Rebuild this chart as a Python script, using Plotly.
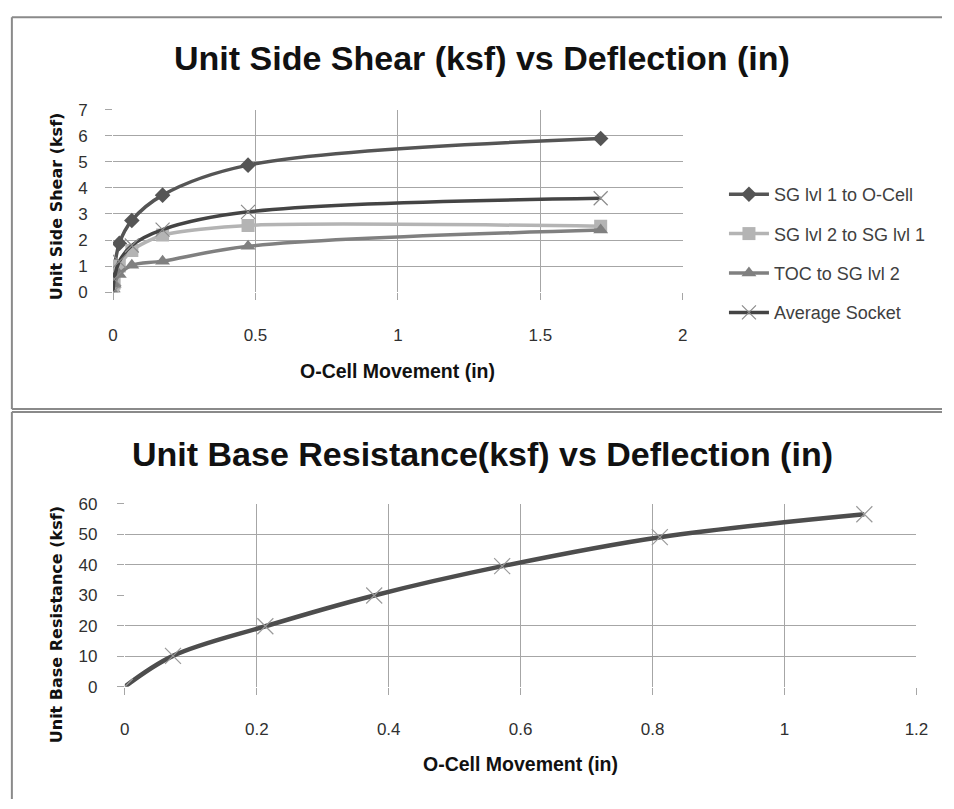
import plotly.graph_objects as go

# ---------------- data ----------------
movement = [0, 0.004, 0.022, 0.066, 0.174, 0.474, 1.712]
sg1_ocell = [0, 0.85, 1.87, 2.75, 3.72, 4.87, 5.89]
sg2_sg1 = [0, 0.35, 1.0, 1.6, 2.19, 2.56, 2.53]
toc_sg2 = [0, 0.3, 0.68, 1.03, 1.19, 1.76, 2.38]
avg_socket = [0, 0.5, 1.18, 1.79, 2.4, 3.08, 3.6]

base_movement = [0, 0.073, 0.213, 0.378, 0.572, 0.811, 1.121]
base_resistance = [0, 10.1, 19.8, 29.9, 39.5, 49.0, 56.5]

top_xticks = [0, 0.5, 1, 1.5, 2]
top_xlabels = ["0", "0.5", "1", "1.5", "2"]
top_yticks = [0, 1, 2, 3, 4, 5, 6, 7]
bot_xticks = [0, 0.2, 0.4, 0.6, 0.8, 1, 1.2]
bot_xlabels = ["0", "0.2", "0.4", "0.6", "0.8", "1", "1.2"]
bot_yticks = [0, 10, 20, 30, 40, 50, 60]
bot_ygrid = [0, 10, 20, 40, 50, 60]

W, H = 954, 809
NARROW = "Liberation Sans Narrow, Arial Narrow, Liberation Sans, sans-serif"
WIDE = "DejaVu Sans, Verdana, sans-serif"
GRID = "#a6a6a6"
TXT = "#303030"


def px(x):
    return x / W


def py(y):
    return 1 - y / H


fig = go.Figure()

series = [
    ("SG lvl 1 to O-Cell", sg1_ocell, "#555555", "diamond", 12, "#555555", 1.0),
    ("SG lvl 2 to SG lvl 1", sg2_sg1, "#b4b4b4", "square", 13, "#b4b4b4", 0.7),
    ("TOC to SG lvl 2", toc_sg2, "#808080", "triangle-up", 13, "#808080", 1.0),
    ("Average Socket", avg_socket, "#444444", "x-thin", 14, "#8c8c8c", 1.0),
]
for i, (name, ys, col, sym, size, mcol, sm) in enumerate(series):
    marker = dict(symbol=sym, size=size, color=mcol)
    if sym == "x-thin":
        marker["line"] = dict(color=mcol, width=1.2)
    else:
        marker["line"] = dict(width=0)
    fig.add_trace(go.Scatter(
        x=movement, y=ys, name=name, mode="lines+markers",
        line=dict(color=col, width=3.5, shape="spline", smoothing=sm),
        marker=marker, xaxis="x", yaxis="y", legendgroup=f"g{i}",
    ))

fig.add_trace(go.Scatter(
    x=base_movement, y=base_resistance, name="Unit Base Resistance",
    mode="lines+markers", showlegend=False,
    line=dict(color="#4d4d4d", width=4.5, shape="spline", smoothing=1.0),
    marker=dict(symbol="x-thin", size=16, color="#9a9a9a",
                line=dict(color="#9a9a9a", width=1.2)),
    xaxis="x2", yaxis="y2",
))

tickfont = dict(family=NARROW, size=17, color=TXT)

fig.update_layout(
    width=W, height=H, margin=dict(l=0, r=0, t=0, b=0),
    paper_bgcolor="white", plot_bgcolor="white",
    xaxis=dict(domain=[px(110), px(690)], range=[0, 2], tickvals=top_xticks,
               ticktext=top_xlabels, showgrid=True, gridcolor=GRID, gridwidth=1,
               zeroline=False, showline=False, ticks="outside", ticklen=7,
               tickcolor=GRID, tickfont=tickfont, ticklabelstandoff=20,
               anchor="y"),
    yaxis=dict(domain=[py(290), py(103)], range=[0, 7], tickvals=top_yticks,
               showgrid=True, gridcolor=GRID, gridwidth=1, zeroline=False,
               showline=False, ticks="outside", ticklen=7, tickcolor=GRID,
               tickfont=tickfont, ticklabelstandoff=14, anchor="x"),
    xaxis2=dict(domain=[px(122), px(928)], range=[0, 1.2], tickvals=bot_xticks,
                ticktext=bot_xlabels, showgrid=True, gridcolor=GRID, gridwidth=1,
                zeroline=False, showline=False, ticks="outside", ticklen=7,
                tickcolor=GRID, tickfont=tickfont, ticklabelstandoff=20,
                anchor="y2"),
    yaxis2=dict(domain=[py(694), py(506.5)], range=[0, 60], tickvals=bot_ygrid,
                showgrid=True, gridcolor=GRID, gridwidth=1, zeroline=False,
                showline=False, showticklabels=False, ticks="", anchor="x2"),
    yaxis3=dict(overlaying="y2", range=[0, 60], tickvals=bot_yticks,
                showgrid=False, zeroline=False, showline=False, ticks="outside",
                ticklen=7, tickcolor=GRID, tickfont=tickfont,
                ticklabelstandoff=16, anchor="x2", side="left"),
    legend=dict(x=px(732), y=py(171), xanchor="left", yanchor="top",
                font=dict(family=NARROW, size=18, color="#404040"),
                tracegroupgap=13, bgcolor="rgba(0,0,0,0)", itemwidth=40),
    showlegend=True,
)

# invisible trace to activate the label-only overlay axis
fig.add_trace(go.Scatter(x=[0], y=[0], xaxis="x2", yaxis="y3", mode="markers",
                         marker=dict(opacity=0), showlegend=False,
                         hoverinfo="skip"))

annotations = [
    dict(text="<b>Unit Side Shear (ksf) vs Deflection (in)</b>", x=px(486), y=py(50),
         font=dict(family=NARROW, size=34, color="#111111")),
    dict(text="<b>Unit Base Resistance(ksf) vs Deflection (in)</b>", x=px(486), y=py(456),
         font=dict(family=NARROW, size=34, color="#111111")),
    dict(text="<b>O-Cell Movement (in)</b>", x=px(400), y=py(371),
         font=dict(family=NARROW, size=19.5, color="#111111")),
    dict(text="<b>O-Cell Movement (in)</b>", x=px(525), y=py(773),
         font=dict(family=NARROW, size=19.5, color="#111111")),
    dict(text="<b>Unit Side Shear (ksf)</b>", x=px(52), y=py(202), textangle=-90,
         font=dict(family=WIDE, size=16, color="#111111")),
    dict(text="<b>Unit Base Resistance (ksf)</b>", x=px(52), y=py(631), textangle=-90,
         font=dict(family=WIDE, size=16, color="#111111")),
]
for a in annotations:
    a.update(xref="paper", yref="paper", showarrow=False, xanchor="center",
             yanchor="middle")
fig.update_layout(annotations=annotations)

FRAME = "#8a8a8a"
LX = px(7)
shapes = [
    dict(x0=LX, x1=1, y0=py(8.5), y1=py(8.5)),
    dict(x0=LX, x1=LX, y0=py(8.5), y1=py(409.5)),
    dict(x0=LX, x1=1, y0=py(409.5), y1=py(409.5)),
    dict(x0=LX, x1=1, y0=py(412.8), y1=py(412.8)),
    dict(x0=LX, x1=LX, y0=py(412.8), y1=0),
]
for s in shapes:
    s.update(type="line", xref="paper", yref="paper",
             line=dict(color=FRAME, width=2))
fig.update_layout(shapes=shapes)

fig.write_html(
    "out.html",
    config={"displayModeBar": False},
    post_script="document.body.style.margin='0';"
                "document.body.style.padding='0';"
                "document.body.style.overflow='hidden';",
)
